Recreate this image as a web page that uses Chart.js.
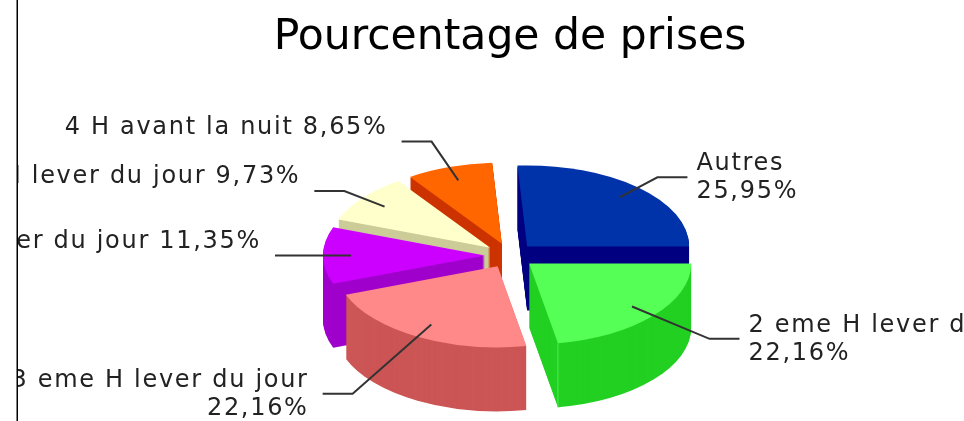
<!DOCTYPE html>
<html><head><meta charset="utf-8">
<style>html,body{margin:0;padding:0;background:#fff;overflow:hidden}
#w{position:relative;width:964px;height:421px}canvas{display:block;filter:blur(0.45px)}</style>
<script src="https://cdn.jsdelivr.net/npm/chart.js@4"></script></head>
<body><div id="w"><canvas id="c" width="964" height="421"></canvas></div>
<script>
const chartTitle = 'Pourcentage de prises';
const categories = ['Autres','2 eme H lever du jour','3 eme H lever du jour','1 ere H lever du jour','4 eme H lever du jour','4 H avant la nuit'];
const shares = [25.95,22.16,22.16,11.35,9.73,8.65];
const topColors = ['#0033aa','#55ff55','#ff8888','#cc00ff','#ffffcc','#ff6600'];
const sideColors = ['#000080','#22d022','#cc5555','#a000cc','#cccc99','#cc3300'];
const paintOrder = [5,4,3,0,1,2];
const twoLineLabel = [true,true,true,false,false,false];
const elbowRadius = [190,235,293,180,185,216];
const squash = 0.5, depth = 64, explode = 25, anchorRadius = 134, stub = 30;
const labelFont = '24px "DejaVu Sans"';

const pie3d = {
  id:'pie3d',
  beforeDatasetsDraw(chart){
    const ctx = chart.ctx, arcs = chart.getDatasetMeta(0).data;
    ctx.save();ctx.fillStyle='#000';ctx.fillRect(16.5,0,1.5,421);ctx.restore();
    const place=(a,down)=>{
      const mid=(a.startAngle+a.endAngle)/2;
      ctx.translate(a.x+Math.cos(mid)*explode, a.y+Math.sin(mid)*explode*squash+down);
      ctx.scale(1,squash);
      ctx.translate(-a.x,-a.y);
    };
    for(const i of paintOrder){
      const a=arcs[i];
      const side=Object.create(a);
      side.options=Object.assign({},a.options,{backgroundColor:sideColors[i],borderColor:sideColors[i]});
      for(let d=depth;d>=1;d--){ctx.save();place(a,d);side.draw(ctx);ctx.restore();}
      if(i===1){
        const cx=a.x+Math.cos((a.startAngle+a.endAngle)/2)*explode+Math.cos(a.endAngle)*a.outerRadius;
        const cy=a.y+Math.sin((a.startAngle+a.endAngle)/2)*explode*squash+Math.sin(a.endAngle)*a.outerRadius*squash;
        ctx.save();ctx.strokeStyle='#4fee4f';ctx.lineWidth=1;ctx.beginPath();ctx.moveTo(cx,cy);ctx.lineTo(cx,cy+depth);ctx.stroke();ctx.restore();
      }
      ctx.save();place(a,0);a.draw(ctx);ctx.restore();
    }
    return false;
  },
  afterDraw(chart){
    const ctx=chart.ctx, arcs=chart.getDatasetMeta(0).data;
    ctx.save();
    ctx.beginPath();ctx.rect(18,0,946,421);ctx.clip();
    arcs.forEach((a,i)=>{
      const mid=(a.startAngle+a.endAngle)/2,c=Math.cos(mid),s=Math.sin(mid)*squash;
      const ox=a.x+Math.cos(mid)*explode, oy=a.y+Math.sin(mid)*explode*squash;
      const x0=ox+c*anchorRadius,y0=oy+s*anchorRadius;
      const x1=ox+c*elbowRadius[i],y1=oy+s*elbowRadius[i];
      const dir=c>=0?1:-1, x2=x1+dir*stub;
      ctx.strokeStyle='#333';ctx.lineWidth=2;
      ctx.beginPath();ctx.moveTo(x0,y0);ctx.lineTo(x1,y1);ctx.lineTo(x2,y1);ctx.stroke();
      ctx.font=labelFont;ctx.fillStyle='#222';ctx.textBaseline='middle';
      ctx.letterSpacing='1.7px';
      ctx.textAlign=dir>0?'left':'right';
      const tx=x2+dir*(dir>0?9:14), pct=shares[i].toFixed(2).replace('.',',')+'%';
      if(twoLineLabel[i]){
        ctx.fillText(categories[i],tx,y1-13);
        ctx.fillText(pct,tx,y1+15);
      }else{
        ctx.fillText(categories[i]+' '+pct,tx,y1-14);
      }
    });
    ctx.restore();
  }
};

new Chart(document.getElementById('c'),{
  type:'pie',
  data:{labels:categories,datasets:[{data:shares,backgroundColor:topColors,borderWidth:0,radius:162}]},
  options:{
    responsive:false,animation:false,rotation:-3.42,
    layout:{padding:{left:100,right:44,top:0,bottom:0}},
    plugins:{legend:{display:false},tooltip:{enabled:false},
      title:{display:true,text:chartTitle,color:'#000',font:{family:'"DejaVu Sans"',size:42.5,weight:'normal',lineHeight:1.2},padding:{top:12,bottom:27}}}
  },
  plugins:[pie3d]
});
</script></body></html>
